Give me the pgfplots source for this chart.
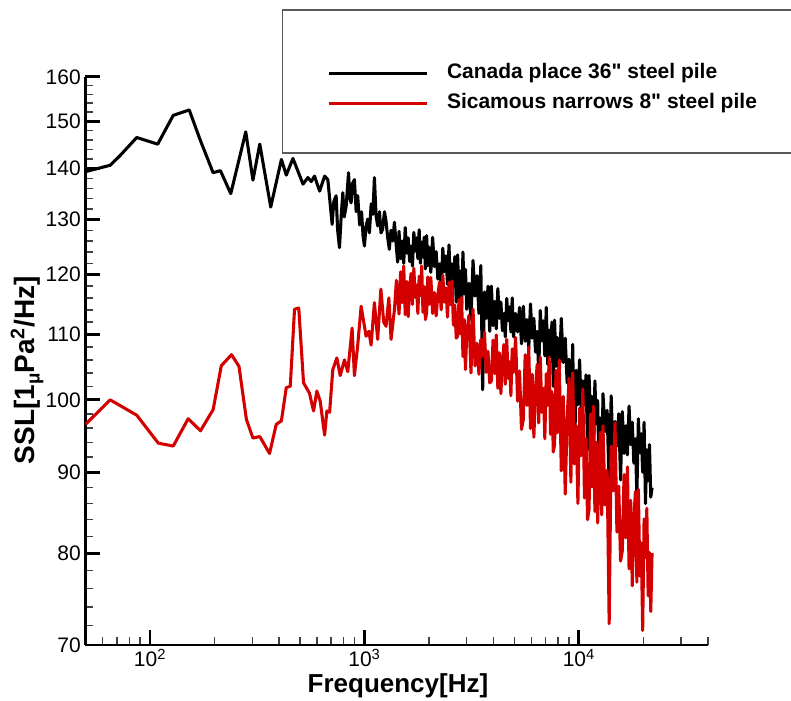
\documentclass[border=0pt]{standalone}
\usepackage{fontspec}
\setmainfont{Liberation Sans}
\usepackage{pgfplots}
\pgfplotsset{compat=1.18}
\definecolor{sigred}{RGB}{212,0,0}
\begin{document}
\begin{tikzpicture}
\useasboundingbox (-64.1pt,-41.25pt) rectangle (529.1pt,483.75pt);
\begin{axis}[
  at={(0,0)}, anchor=south west,
  scale only axis, width=466.8pt, height=426pt,
  xmode=log, ymode=log,
  xmin=50, xmax=40000, ymin=70, ymax=160,
  axis x line=bottom, axis y line=left,
  axis line style={line width=2.2pt,-},
  xtick={100,1000,10000},
  xticklabels={10\textsuperscript{2},10\textsuperscript{3},10\textsuperscript{4}},
  minor xtick={60,70,80,90,200,300,400,500,600,700,800,900,2000,3000,4000,5000,6000,7000,8000,9000,20000,30000,40000},
  ytick={70,80,90,100,110,120,130,140,150,160},
  yticklabels={70,80,90,100,110,120,130,140,150,160},
  minor ytick={72,74,76,78,82,84,86,88,92,94,96,98,102,104,106,108,112,114,116,118,122,124,126,128,132,134,136,138,142,144,146,148,152,154,156,158},
  tick align=inside,
  major tick length=11.25pt, minor tick length=6pt,
  every major tick/.append style={line width=2.2pt, black},
  every minor tick/.append style={line width=1.1pt, black!75},
  tick label style={font=\fontsize{15.75}{18}\selectfont},
  xlabel={Frequency[Hz]},
  xlabel style={font=\bfseries\fontsize{19.5}{22}\selectfont, at={(axis description cs:0.502,-0.083)}, anchor=base},
  ylabel={SSL[1\raisebox{-0.35ex}{\fontsize{14}{14}\selectfont μ}Pa\textsuperscript{2}/Hz]},
  ylabel style={font=\bfseries\fontsize{21}{24}\selectfont, at={(axis description cs:-0.094,0.484)}, anchor=center},
  legend image code/.code={\path[draw=none,fill=none] (0pt,-5pt) rectangle (73.5pt,5pt); \draw[#1] (0pt,0pt) -- (73.5pt,0pt);},
  legend cell align=left,
  legend style={at={(axis description cs:0.388,1.0241)}, anchor=north west, draw=none, fill=none, inner sep=0pt,
    row sep=8pt, column sep=14pt, font=\bfseries\fontsize{15.75}{18}\selectfont,
    nodes={inner sep=0pt, text height=11.5pt, text depth=3pt}},
]
\addplot[black, line width=2.3pt, line join=round] coordinates {
(50,139.4) (65.2,140.7) (72.5,142.7) (86.7,146.5) (108.6,145.1) (128.3,151.3) (152.4,152.5) (171,146.1) (196.9,139.2) (213,139.6) (238,135.0) (279.6,147.7) (302,137.7) (325,145.1) (365.6,132.4) (410,141.9) (432,138.7) (464,142.1) (517,136.9) (545,138.2) (565,137.4) (585,138.5) (618,135.5) (652,138.5) (675,137.8) (707,129.1) (720,133.5) (738,134.6) (750,128.0) (765,124.8) (780,131.0) (793,135.2) (805,130.5) (822,132.6) (843,139.2) (855,134.0) (867,133.2) (880,137.0) (898,137.8) (915,131.5) (930,134.6) (950,129.0) (970,131.5) (985,127.0) (1000,125.1) (1018,128.8) (1036,130.1) (1055,127.5) (1075,133.0) (1095,131.0) (1113,138.2) (1133,130.7) (1153,128.8) (1175,131.5) (1195,127.5) (1216,128.2) (1240,131.5) (1261,129.7) (1285,126.5) (1306,124.5) (1330,128.0) (1355,126.0) (1380,129.5) (1405,125.5) (1429,122.2)
(1450,127.8) (1475,122.8) (1500,126.0) (1525,122.0) (1550,128.5) (1575,123.8) (1600,126.6) (1625,122.3) (1650,125.1) (1675,121.5) (1700,127.6) (1725,124.2) (1750,126.6) (1775,122.8) (1800,128.1) (1825,122.0) (1850,125.8) (1875,123.1) (1900,126.7) (1925,121.0) (1950,127.0) (1975,121.6) (2000,124.9)
(2040,120.4) (2080,126.7) (2120,121.4) (2160,124.1) (2200,119.2) (2240,121.9) (2280,117.6) (2320,124.7) (2360,120.5) (2400,123.3) (2440,118.3) (2480,125.3) (2520,116.8) (2560,121.9) (2600,117.8) (2640,123.2) (2680,115.3) (2720,123.5) (2760,116.0) (2800,120.6) (2840,114.5) (2880,124.0) (2920,116.7) (2960,120.9) (3000,114.1)
(3070,118.5) (3140,112.4) (3210,122.5) (3280,116.3) (3350,119.8) (3420,113.4) (3490,121.6) (3560,101.5) (3630,117.0) (3700,112.6) (3770,118.0) (3840,110.5) (3910,118.0) (3980,111.4) (4050,115.4) (4120,110.9) (4190,117.6) (4260,112.6) (4330,115.3) (4400,110.6) (4470,113.4) (4540,109.6) (4610,115.9) (4680,112.2) (4750,114.5) (4820,110.4) (4890,116.0) (4960,109.6)
(5070,113.4) (5180,110.4) (5290,114.4) (5400,108.5) (5510,114.6) (5620,108.9) (5730,112.4) (5840,107.8) (5950,115.0) (6060,109.4) (6170,112.6) (6280,107.2) (6390,110.5) (6500,104.0) (6610,113.9) (6720,109.0) (6830,112.2) (6940,106.6) (7050,114.4) (7160,105.3) (7270,110.7) (7380,106.5) (7490,112.0) (7600,102.0) (7710,112.3) (7820,105.0) (7930,109.5)
(8100,103.7) (8280,112.6) (8460,105.6) (8640,109.4) (8820,102.5) (9000,106.1) (9180,96.0) (9360,108.4) (9540,91.5) (9720,104.4) (9900,99.3) (10080,106.0) (10260,98.6) (10440,102.8) (10620,99.3) (10800,103.7) (10980,93.0) (11160,103.6) (11340,97.3) (11520,100.5) (11700,91.0) (11880,102.8) (12060,96.6) (12240,99.9) (12420,90.0) (12600,97.4) (12780,89.0) (12960,100.9)
(13250,95.5) (13550,98.5) (13850,88.0) (14150,100.6) (14450,91.8) (14750,96.9) (15050,93.5) (15350,98.0) (15650,89.0) (15950,98.3) (16250,92.5) (16550,96.3) (16850,92.3) (17150,99.1) (17450,93.7) (17750,96.8) (18050,91.2) (18350,94.5) (18650,87.0) (18950,97.3) (19250,92.6) (19550,95.2) (19850,90.0) (20150,96.8) (20450,86.0) (20750,93.0) (21050,88.9) (21350,93.7) (21650,86.8) (21950,88.0)
};
\addlegendentry{Canada place 36\textquotedbl\ steel pile}
\addplot[sigred, line width=2.3pt, line join=round] coordinates {
(50,96.5) (65.2,100.0) (86.7,97.8) (109.3,93.9) (128.3,93.5) (150.7,97.3) (172,95.6) (197,98.6) (215,105.1) (240,106.8) (260,105.0) (281.5,97.2) (302,94.6) (325,94.8) (361,92.5) (388,96.5) (410,97.0) (432,101.8) (451,102.0) (472,114.1) (494,114.3) (520,102.5) (554,101.0) (579,98.4) (600,101.3) (622,99.8) (652,95.0) (668,98.4) (688,98.2) (712,104.5) (744,106.3) (771,103.6) (807,106.0) (836,104.2) (876,111.0) (898,103.6) (930,108.2) (965,114.6) (1018,109.7) (1049,110.5) (1074,108.3) (1113,115.2) (1153,109.2) (1193,117.5) (1230,112.0) (1261,111.3) (1300,116.0) (1331,109.2) (1380,114.0) (1410,119.0)
(1450,113.3) (1475,120.5) (1500,115.2) (1525,121.5) (1550,113.2) (1575,118.8) (1600,112.9) (1625,117.7) (1650,120.2) (1675,114.9) (1700,121.1) (1725,116.1) (1750,118.2) (1775,113.4) (1800,119.7) (1825,116.4) (1850,121.5) (1875,113.6) (1900,117.9) (1925,112.4) (1950,113.5) (1975,119.6) (2000,114.9)
(2040,119.5) (2080,113.4) (2120,116.9) (2160,113.0) (2200,116.5) (2240,118.7) (2280,114.0) (2320,119.9) (2360,115.3) (2400,117.7) (2440,112.8) (2480,118.7) (2520,114.9) (2560,118.9) (2600,111.5) (2640,114.8) (2680,109.4) (2720,109.7) (2760,115.7) (2800,110.1) (2840,116.1) (2880,106.5) (2920,112.4) (2960,104.5) (3000,110.1)
(3070,113.1) (3140,104.0) (3210,114.1) (3280,105.1) (3350,108.6) (3420,103.8) (3490,109.2) (3560,106.5) (3630,110.3) (3700,104.1) (3770,107.3) (3840,102.5) (3910,102.8) (3980,109.1) (4050,103.9) (4120,109.9) (4190,101.7) (4260,107.1) (4330,100.9) (4400,105.7) (4470,108.4) (4540,102.3) (4610,109.2) (4680,103.2) (4750,105.7) (4820,100.6) (4890,107.7) (4960,104.1)
(5070,109.5) (5180,99.8) (5290,104.3) (5400,95.8) (5510,97.2) (5620,106.8) (5730,99.2) (5840,108.0) (5950,95.9) (6060,103.8) (6170,94.7) (6280,101.6) (6390,105.3) (6500,96.7) (6610,106.4) (6720,98.2) (6830,101.7) (6940,94.5) (7050,103.9) (7160,99.2) (7270,106.4) (7380,95.1) (7490,101.2) (7600,92.7) (7710,93.7) (7820,104.4) (7930,95.3)
(8100,106.0) (8280,90.2) (8460,100.5) (8640,87.2) (8820,97.3) (9000,103.2) (9180,88.7) (9360,104.0) (9540,91.1) (9720,96.3) (9900,86.0) (10080,98.8) (10260,92.2) (10440,101.6) (10620,86.7) (10800,94.5) (10980,84.0) (11160,85.3) (11340,98.0) (11520,88.1) (11700,99.1) (11880,85.0) (12060,94.0) (12240,83.6) (12420,91.3) (12600,95.4) (12780,84.6) (12960,96.3)
(13250,85.8) (13550,90.3) (13850,72.2) (14150,93.5) (14450,87.6) (14750,96.7) (15050,82.5) (15350,88.2) (15650,79.1) (15950,80.3) (16250,89.7) (16550,81.8) (16850,90.7) (17150,78.2) (17450,86.4) (17750,76.3) (18050,83.9) (18350,87.5) (18650,76.7) (18950,87.8) (19250,77.4) (19550,81.2) (19850,71.5) (20150,84.1) (20450,79.5) (20750,85.4) (21050,75.2) (21350,80.1) (21650,73.5) (21950,80.0)
};
\addlegendentry{Sicamous narrows 8\textquotedbl\ steel pile}
\end{axis}
\draw[black!65, line width=0.8pt] (148.1pt,369pt) rectangle (545pt,476.25pt);
\end{tikzpicture}
\end{document}
